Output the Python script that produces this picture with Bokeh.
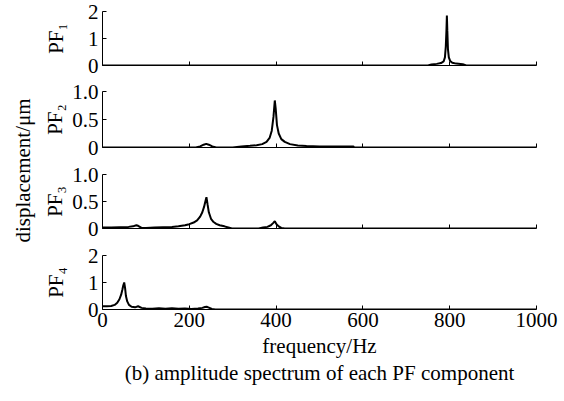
from bokeh.plotting import figure
from bokeh.layouts import column, row
from bokeh.models import Range1d, FixedTicker, CustomJSTickFormatter, Title, Label
from bokeh.embed import file_html
from bokeh.resources import INLINE

FONT = "Liberation Serif"

# ---- data ----
freq1 = [0, 750, 758, 770, 780, 786, 789, 791, 792.5, 793.5, 794.5, 796, 798, 801, 806, 815, 830, 838, 1000]
amp1 = [0, 0, 0.04, 0.06, 0.09, 0.15, 0.3, 0.7, 1.3, 1.85, 1.3, 0.6, 0.3, 0.17, 0.1, 0.07, 0.05, 0, 0]

freq2 = [0, 215, 225, 233, 239, 245, 253, 262, 300, 320, 340, 355, 368, 378, 385, 390, 394, 397, 399,
         402, 406, 412, 420, 432, 450, 470, 500, 540, 578, 580, 1000]
amp2 = [0, 0, 0.02, 0.05, 0.065, 0.05, 0.02, 0, 0, 0.02, 0.03, 0.04, 0.06, 0.1, 0.17, 0.3, 0.55, 0.84, 0.7,
        0.4, 0.25, 0.15, 0.1, 0.06, 0.035, 0.025, 0.02, 0.02, 0.02, 0, 0]

freq3 = [0, 20, 40, 60, 70, 78, 82, 90, 100, 120, 140, 160, 175, 190, 200, 210, 218, 225, 230, 234, 237,
         239.5, 242, 245, 250, 256, 262, 270, 281, 290, 298, 360, 370, 380, 388, 393, 397, 401, 406, 412, 420, 1000]
amp3 = [0.02, 0.02, 0.025, 0.03, 0.04, 0.06, 0.05, 0.01, 0.01, 0.02, 0.025, 0.03, 0.04, 0.06, 0.08, 0.11,
        0.15, 0.22, 0.3, 0.4, 0.5, 0.58, 0.45, 0.3, 0.18, 0.12, 0.087, 0.06, 0.04, 0.02, 0, 0, 0.02, 0.03,
        0.06, 0.1, 0.135, 0.08, 0.04, 0.01, 0, 0]

freq4 = [0, 10, 20, 28, 34, 39, 43, 46, 48, 50, 52, 54, 57, 61, 67, 75, 82, 90, 100, 115, 130, 145, 160,
         175, 190, 205, 220, 230, 236, 240, 245, 252, 260, 1000]
amp4 = [0.12, 0.12, 0.13, 0.17, 0.25, 0.38, 0.55, 0.75, 0.9, 1.0, 0.8, 0.5, 0.3, 0.17, 0.1, 0.08, 0.12,
        0.06, 0.04, 0.03, 0.05, 0.03, 0.05, 0.03, 0.04, 0.02, 0.04, 0.06, 0.09, 0.1, 0.07, 0.02, 0, 0]

panel_labels = ["PF₁", "PF₂", "PF₃", "PF₄"]
y_max = [2, 1.0, 1.0, 2]
y_ticks = [[0, 1, 2], [0, 0.5, 1.0], [0, 0.5, 1.0], [0, 1, 2]]
x_ticks = [0, 200, 400, 600, 800, 1000]
x_label = "frequency/Hz"
y_label = "displacement/μm"
caption = "(b) amplitude spectrum of each PF component"

freqs = [freq1, freq2, freq3, freq4]
amps = [amp1, amp2, amp3, amp4]

# ---- layout geometry ----
heights = [78, 82, 81, 160]
tops = [11, 13, 14, 14]
bottoms = [13, 13, 13, 92]
FIG_W = 524
LABEL_W = 40
TOTAL_H = sum(heights)

x_range = Range1d(0, 1000)
figs = []
for i in range(4):
    last = (i == 3)
    p = figure(width=FIG_W, height=heights[i], x_range=x_range, y_range=Range1d(0, y_max[i]),
               output_backend="svg", toolbar_location=None,
               min_border_left=61, min_border_right=28,
               min_border_top=tops[i], min_border_bottom=bottoms[i])
    p.line(freqs[i], amps[i], line_color="black", line_width=2)
    p.grid.visible = False
    p.outline_line_color = None
    p.background_fill_color = "white"
    p.border_fill_color = "white"

    for ax in (p.xaxis[0], p.yaxis[0]):
        ax.axis_line_color = "black"
        ax.axis_line_width = 1
        ax.major_tick_line_color = "black"
        ax.major_tick_out = 0
        ax.major_tick_in = 4
        ax.minor_tick_line_color = None
        ax.major_label_text_font = FONT
        ax.major_label_text_font_size = "21px"
        ax.major_label_text_color = "black"
        ax.axis_label_text_font = FONT
        ax.axis_label_text_font_size = "21px"
        ax.axis_label_text_font_style = "normal"
        ax.axis_label_text_color = "black"

    xa = p.xaxis[0]
    xa.ticker = FixedTicker(ticks=x_ticks)
    if last:
        xa.major_label_standoff = 3
        xa.axis_label = x_label
        xa.axis_label_standoff = 4
    else:
        xa.formatter = CustomJSTickFormatter(code="return '';")
        xa.major_label_text_font_size = "0px"
        xa.major_label_standoff = 0

    ya = p.yaxis[0]
    ya.ticker = FixedTicker(ticks=y_ticks[i])
    if y_max[i] < 1.5:
        ya.formatter = CustomJSTickFormatter(code="return tick == 0 ? '0' : tick.toFixed(1);")
        ya.axis_label_standoff = 2
    else:
        ya.axis_label_standoff = 17
    ya.major_label_standoff = 4
    ya.axis_label = panel_labels[i]

    if last:
        t = Title(text=caption, align="center", text_font=FONT, text_font_size="21px",
                  text_font_style="normal", text_color="black", standoff=-3, offset=0)
        p.add_layout(t, "below")
    figs.append(p)

lab = figure(width=LABEL_W, height=TOTAL_H, x_range=Range1d(0, LABEL_W), y_range=Range1d(0, TOTAL_H),
             x_axis_type=None, y_axis_type=None, output_backend="svg", toolbar_location=None,
             min_border=0, min_border_left=0, min_border_right=0, min_border_top=0, min_border_bottom=0)
lab.grid.visible = False
lab.outline_line_color = None
lab.add_layout(Label(x=22, y=TOTAL_H - 170, x_units="screen", y_units="screen", text=y_label,
                     angle=90, angle_units="deg", text_align="center", text_baseline="middle",
                     text_font=FONT, text_font_size="21px", text_color="black"))

layout = row(lab, column(*figs))

with open("out.html", "w") as f:
    f.write(file_html(layout, INLINE))
